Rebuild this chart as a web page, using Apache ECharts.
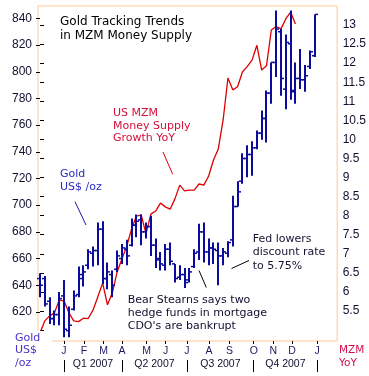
<!DOCTYPE html>
<html><head><meta charset="utf-8">
<script src="https://cdn.jsdelivr.net/npm/echarts@6/dist/echarts.min.js"></script>
<style>html,body{margin:0;padding:0;background:#fff}#c{width:369px;height:376px}</style>
</head><body><div id="c"></div>
<script>
// Weekly gold price (US$/oz) OHLC, late Nov 2006 - Jan 2008 (index = week)
const goldOpen  = [645,645,628,615,618,632,606,622,633,645, 655,664,666,682,645,648,652,660,667,670, 685,689,680,684,670,660,655,667,656,646, 648,644,654,665,680,665,668,666,662,664, 674,699,718,735,738,743,754,765,784,807, 830,787,821,785,795,794,804,812];
const goldHigh  = [649,647,631,621,635,644,624,636,654,655, 667,669,687,688,657,651,666,671,674,690, 693,693,687,692,675,665,671,672,656,655, 653,653,667,686,687,675,672,672,668,673, 707,718,739,745,748,756,771,786,807,846, 832,828,846,807,817,805,816,843];
const goldLow   = [631,624,611,610,610,601,601,621,631,639, 652,654,655,641,637,631,650,656,655,669, 676,670,675,662,653,651,651,655,642,644, 638,642,653,659,657,655,656,640,655,661, 669,699,716,721,722,742,749,747,776,796, 782,772,779,776,787,785,802,811];
const goldClose = [640,626,615,618,630,607,610,632,648,650, 665,666,682,645,650,640,662,668,662,685, 688,680,684,670,659,656,667,658,645,648, 642,650,664,680,665,668,667,662,665,672, 699,710,735,738,743,754,765,784,807,832, 795,822,786,795,794,797,815,843];
// US MZM money supply growth, YoY %, same weeks
const mzmGrowth = [4.92,5.24,5.37,5.45,5.79,5.76,5.45,5.24,5.22,5.31, 5.30,5.52,5.87,6.23,5.66,5.97,6.52,6.86,7.20,7.65, 7.99,8.02,7.52,8.04,8.12,8.33,8.23,8.17,8.44,8.80, 8.65,8.67,8.67,8.83,8.80,9.04,9.46,9.75,10.51,11.61, 11.30,11.38,11.77,11.91,12.08,12.47,11.82,11.93,12.87,12.96, 12.90,13.16,13.34,13.03];
// X axis: month labels and the week position where each sits
const monthLabels = ['J','F','M','A','M','J','J','A','S','O','N','D','J'];
const monthAt     = [4.97,9.12,13.2,17.0,22.1,26.05,30.5,35.07,39.3,44.35,48.4,52.3,57.5];
const quarterLabels = ['Q1 2007','Q2 2007','Q3 2007','Q4 2007'];
const quarterEdges  = [4.97,17.0,30.5,44.35,57.5];
// Y axis ticks
const goldTicks = [620,640,660,680,700,720,740,760,780,800,820,840];
const mzmTicks  = [5,5.5,6,6.5,7,7.5,8,8.5,9,9.5,10,10.5,11,11.5,12,12.5,13];
const mzmLabels = [5.5,6,6.5,7,7.5,8,8.5,9,9.5,10,10.5,11,11.5,12,12.5,13];

const quarterMid = quarterLabels.map((q, k) => (quarterEdges[k] + quarterEdges[k + 1]) / 2);
const findIdx = (arr, v) => arr.findIndex(a => Math.abs(a - v) < 0.01);

const ohlc = goldOpen.map((o, i) => [i, o, goldHigh[i], goldLow[i], goldClose[i]]);
const mzm = mzmGrowth.map((v, i) => [i, v]);

const BLUE = '#0b0b9e', RED = '#dc0000', FRAME = '#ffc896';
const numFont = 'Liberation Sans', txtFont = 'DejaVu Sans';

const chart = echarts.init(document.getElementById('c'), null, {renderer: 'canvas'});
chart.setOption({
  backgroundColor: '#fff',
  animation: false,
  grid: {left: 38, right: 31.5, top: 6, bottom: 35, show: true, borderColor: FRAME, borderWidth: 1, backgroundColor: 'transparent'},
  xAxis: [{
    type: 'value', min: -0.415, max: 61.66, position: 'bottom',
    axisLine: {show: false}, splitLine: {show: false},
    axisTick: {show: true, customValues: monthAt, length: 3, lineStyle: {color: '#000'}},
    axisLabel: {customValues: monthAt, margin: 5, fontFamily: numFont, fontSize: 10.5, color: '#1a1a60',
      formatter: v => monthLabels[findIdx(monthAt, v)] || ''}
  }, {
    type: 'value', min: -0.415, max: 61.66, position: 'bottom', offset: 19,
    axisLine: {show: false}, splitLine: {show: false},
    axisTick: {show: true, customValues: quarterEdges, length: 12, lineStyle: {color: '#000'}},
    axisLabel: {customValues: quarterMid, margin: -1, fontFamily: numFont, fontSize: 10.5, color: '#101030',
      formatter: v => quarterLabels[findIdx(quarterMid, v)] || ''}
  }],
  yAxis: [{
    type: 'value', min: 598.2, max: 849.3, position: 'left',
    axisLine: {show: false}, splitLine: {show: false},
    axisTick: {show: true, customValues: goldTicks, length: 4, lineStyle: {color: '#000'}},
    axisLabel: {customValues: goldTicks, margin: 6, fontFamily: numFont, fontSize: 12, color: '#101030'}
  }, {
    type: 'value', min: 4.711, max: 13.5, position: 'right',
    axisLine: {show: false}, splitLine: {show: false},
    axisTick: {show: true, customValues: mzmTicks, length: 4, lineStyle: {color: '#000'}},
    axisLabel: {customValues: mzmLabels, margin: 5.5, fontFamily: numFont, fontSize: 12, color: '#101030',
      formatter: v => String(v)}
  }],
  series: [{
    type: 'line', name: 'MZM', xAxisIndex: 0, yAxisIndex: 1, data: mzm,
    symbol: 'none', lineStyle: {color: RED, width: 1.3}, z: 2
  }, {
    type: 'custom', name: 'Gold', xAxisIndex: 0, yAxisIndex: 0, data: ohlc, z: 3,
    encode: {x: 0, y: [1, 2, 3, 4]},
    renderItem: (params, api) => {
      const i = api.value(0);
      const o = api.coord([i, api.value(1)]);
      const h = api.coord([i, api.value(2)]);
      const l = api.coord([i, api.value(3)]);
      const c = api.coord([i, api.value(4)]);
      const x = Math.round(h[0]);
      const st = {stroke: BLUE, lineWidth: 2};
      const tk = {stroke: BLUE, lineWidth: 1.5};
      return {type: 'group', children: [
        {type: 'line', shape: {x1: x, y1: h[1], x2: x, y2: l[1]}, style: st},
        {type: 'line', shape: {x1: x - 3, y1: o[1], x2: x, y2: o[1]}, style: tk},
        {type: 'line', shape: {x1: x, y1: c[1], x2: x + 3, y2: c[1]}, style: tk}
      ]};
    }
  }],
  graphic: [
    {type: 'text', left: 60, top: 15, z: 50, style: {text: 'Gold Tracking Trends\nin MZM Money Supply', font: '12px "DejaVu Sans"', fill: '#000', lineHeight: 14}},
    {type: 'text', left: 113, top: 106.8, z: 50, style: {text: 'US MZM\nMoney Supply\nGrowth YoY', font: '11px "DejaVu Sans"', fill: '#d4103a', lineHeight: 12.6}},
    {type: 'line', z: 50, shape: {x1: 163, y1: 152, x2: 172.7, y2: 174.3}, style: {stroke: RED, lineWidth: 1}},
    {type: 'text', left: 60, top: 167.5, z: 50, style: {text: 'Gold\nUS$ /oz', font: '11px "DejaVu Sans"', fill: '#2a2ac0', lineHeight: 13}},
    {type: 'line', z: 50, shape: {x1: 75, y1: 201.7, x2: 86, y2: 225}, style: {stroke: '#1a1aa8', lineWidth: 1}},
    {type: 'text', left: 127.7, top: 293.5, z: 50, style: {text: 'Bear Stearns says two\nhedge funds in mortgage\nCDO\'s are bankrupt', font: '11px "DejaVu Sans"', fill: '#101030', lineHeight: 13}},
    {type: 'line', z: 50, shape: {x1: 199, y1: 270.5, x2: 206.3, y2: 287.5}, style: {stroke: '#000', lineWidth: 1}},
    {type: 'text', left: 252.7, top: 232.7, z: 50, style: {text: 'Fed lowers\ndiscount rate\nto 5.75%', font: '11px "DejaVu Sans"', fill: '#1a1030', lineHeight: 13.2}},
    {type: 'line', z: 50, shape: {x1: 231.5, y1: 268.5, x2: 249, y2: 260.5}, style: {stroke: '#000', lineWidth: 1}},
    {type: 'rect', z: 49, shape: {x: 0, y: 331, width: 52, height: 45}, style: {fill: '#fff'}},
    {type: 'text', left: 15, top: 331.3, z: 50, style: {text: 'Gold\nUS$\n/oz', font: '11px "DejaVu Sans"', fill: '#4b32c8', lineHeight: 12.8}},
    {type: 'text', left: 339, top: 343.8, z: 50, style: {text: 'MZM\nYoY', font: '10.5px "DejaVu Sans"', fill: '#d4104a', lineHeight: 13}}
  ]
});
</script></body></html>
